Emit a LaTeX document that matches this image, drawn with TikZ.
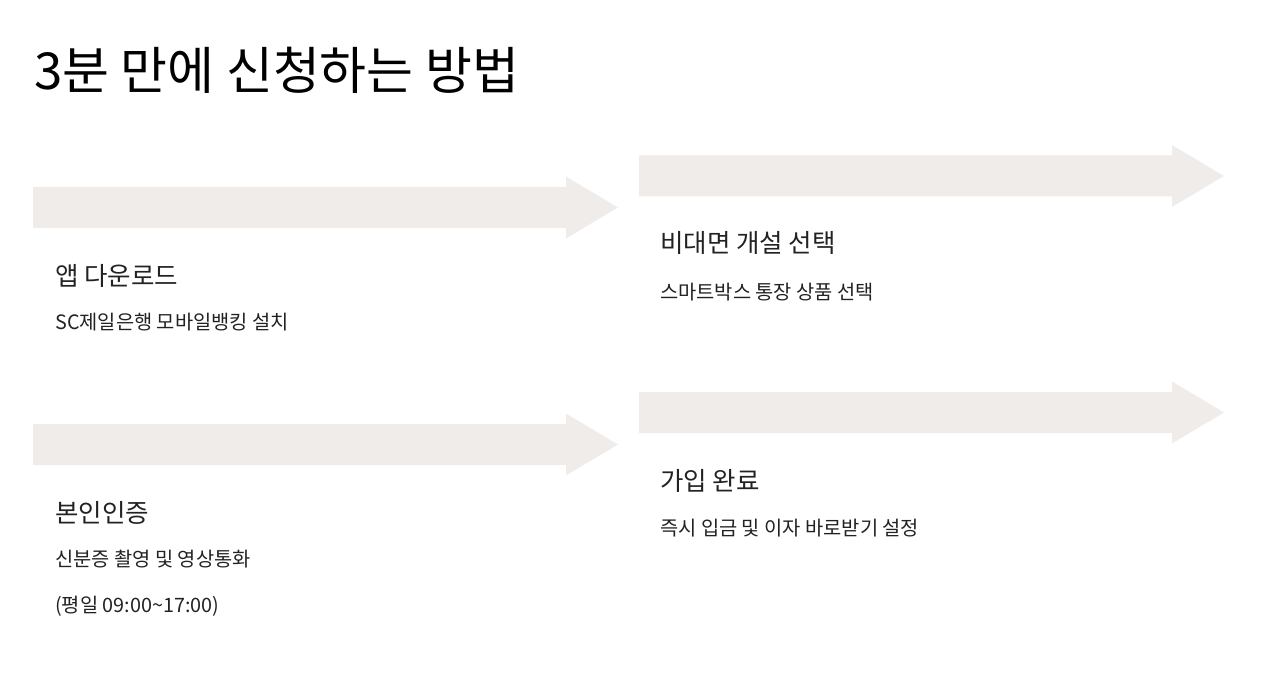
\documentclass[tikz,border=0pt]{standalone}
\usepackage{fontspec}
\setmainfont{Noto Sans CJK KR}
\definecolor{arrowfill}{HTML}{F0ECEA}
\definecolor{txt}{HTML}{222222}
\tikzset{
  bigarrow/.style={fill=arrowfill, draw=none},
  ttl/.style={anchor=west, inner sep=0, font=\fontsize{51}{51}\selectfont, text=black},
  head/.style={anchor=west, inner sep=0, font=\fontsize{25.5}{25.5}\selectfont, text=txt},
  sub/.style={anchor=west, inner sep=0, font=\fontsize{19.8}{19.8}\selectfont, text=txt}
}
\begin{document}
\begin{tikzpicture}[x=1pt,y=-1pt]
\useasboundingbox (0,0) rectangle (1274,684);
\newcommand{\arr}[3]{% x0, ycenter, xtip
  \fill[bigarrow] (#1,#2-20.5) -- (#3-52,#2-20.5) -- (#3-52,#2-31) -- (#3,#2) -- (#3-52,#2+31) -- (#3-52,#2+20.5) -- (#1,#2+20.5) -- cycle;}
\arr{33}{207.5}{618}
\arr{639}{176}{1224}
\arr{33}{444.5}{618}
\arr{639}{412.5}{1224}
\node[ttl] (t) at (34,70) {3분 만에 신청하는 방법};
\node[head] (h1) at (55,276) {앱 다운로드};
\node[sub] (s1) at (55,322) {SC제일은행 모바일뱅킹 설치};
\node[head] (h2) at (660,243) {비대면 개설 선택};
\node[sub] (s2) at (660,292) {스마트박스 통장 상품 선택};
\node[head] (h3) at (55,513) {본인인증};
\node[sub] (s3) at (55,559) {신분증 촬영 및 영상통화};
\node[sub] (s3b) at (55,606) {(평일 09:00\textasciitilde17:00)};
\node[head] (h4) at (660,481) {가입 완료};
\node[sub] (s4) at (660,528) {즉시 입금 및 이자 바로받기 설정};
\end{tikzpicture}
\end{document}
